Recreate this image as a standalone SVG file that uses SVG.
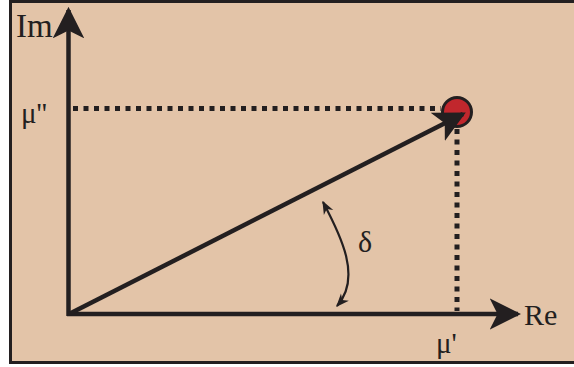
<svg xmlns="http://www.w3.org/2000/svg" width="574" height="367" viewBox="0 0 574 367">
<style>
.lbl{font-family:"Liberation Serif","Times New Roman",serif;fill:#231f20}
.ax{stroke:#231f20;stroke-width:4.5;fill:none}
.dot{stroke:#231f20;stroke-width:5;stroke-dasharray:5 5.5;fill:none}
</style>
<defs>
<marker id="ah" viewBox="0 0 10 10" refX="9" refY="5" markerWidth="7" markerHeight="7" markerUnits="strokeWidth" orient="auto">
<path d="M0,0 L10,5 L0,10 L2.5,5 Z" fill="#231f20"/>
</marker>
<marker id="sm" viewBox="0 0 10 10" refX="9" refY="5" markerWidth="6" markerHeight="6" markerUnits="strokeWidth" orient="auto-start-reverse">
<path d="M0,1 L10,5 L0,9 L3,5 Z" fill="#231f20"/>
</marker>
</defs>
<rect x="10.5" y="1.5" width="600" height="361" fill="#e3c4a8" stroke="#231f20" stroke-width="3"/>
<g id="point"><circle cx="457" cy="112" r="14.5" fill="#c1272d" stroke="#231f20" stroke-width="3"/></g>
<g id="connectors">
<path class="dot" d="M73,108.5 H441"/>
<path class="dot" d="M457,129 V311"/>
<path class="ax" d="M68.5,316 V10" marker-end="url(#ah)"/>
<path class="ax" d="M67,314 H518" marker-end="url(#ah)"/>
<path class="ax" d="M69,314 L463,114" marker-end="url(#ah)"/>
<path d="M323,202 C341,236 362,278 337,306" stroke="#231f20" stroke-width="2.2" fill="none" marker-start="url(#sm)" marker-end="url(#sm)"/>
</g>
<g id="labels">
<text class="lbl" x="16" y="37" font-size="33">Im</text>
<text class="lbl" x="21" y="123" font-size="29">μ''</text>
<text class="lbl" x="524" y="325" font-size="30">Re</text>
<text class="lbl" x="436" y="353" font-size="29">μ'</text>
<text class="lbl" x="358" y="252" font-size="30">δ</text>
</g>
</svg>
